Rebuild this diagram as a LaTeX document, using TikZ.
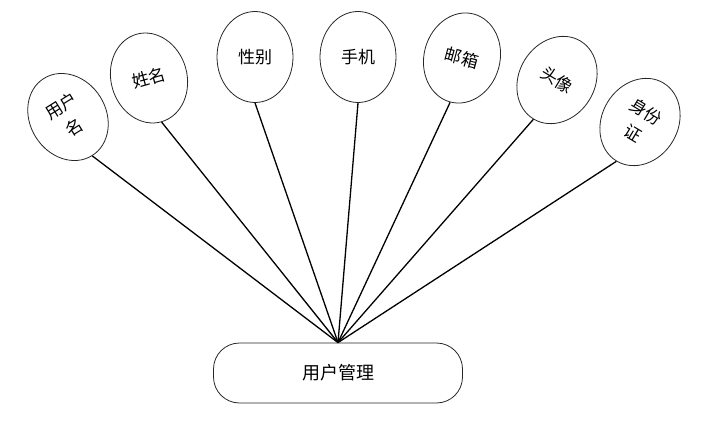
\documentclass[tikz,border=0pt]{standalone}
\usepackage{fontspec}
\newfontfamily\cjk{Noto Sans CJK SC}
\usetikzlibrary{shapes.geometric}
\begin{document}
\begin{tikzpicture}[x=1pt,y=-1pt,
  attr/.style={draw=black!85,line width=.8pt,ellipse,minimum width=76pt,minimum height=91pt,
    inner sep=0pt,align=center,font=\cjk\fontsize{17}{25}\selectfont},
  hub/.style={draw=black!85,line width=.8pt,rounded corners=26pt,minimum width=249pt,
    minimum height=60pt,font=\cjk\fontsize{18}{20}\selectfont}]
\useasboundingbox (0,0) rectangle (709,425);

\node[attr,rotate=32] (uname) at (68,117) {用户\\名};
\node[attr,rotate=16] (rname) at (149,78) {姓名};
\node[attr] (sex) at (255,57) {性别};
\node[attr] (phone) at (358,57) {手机};
\node[attr,rotate=-15] (mail) at (462,58) {邮箱};
\node[attr,rotate=-31] (avatar) at (557,80) {头像};
\node[attr,rotate=-31] (idcard) at (640,122) {身份\\证};

\node[hub] (mgr) at (338,373) {用户管理};

\foreach \n in {uname,rname,sex,phone,mail,avatar,idcard}
  \draw[line width=1.3pt] (mgr.north) -- (\n.south);
\end{tikzpicture}
\end{document}
